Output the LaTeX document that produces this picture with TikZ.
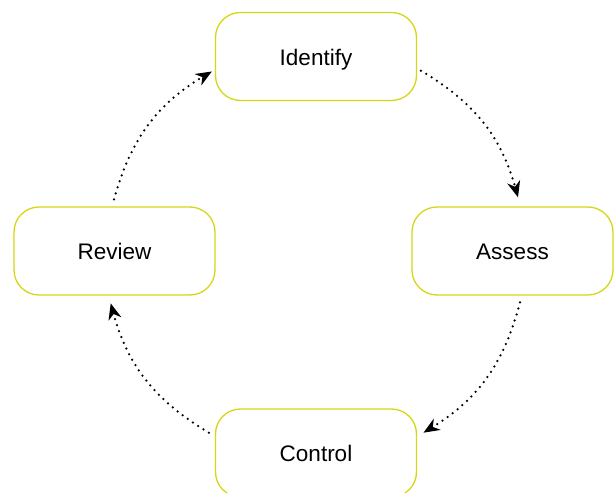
\documentclass[tikz,border=0pt]{standalone}
\usepackage{fontspec}
\setmainfont{Liberation Sans}
\usetikzlibrary{arrows.meta}
\definecolor{stepline}{RGB}{214,214,20}
\begin{document}
\begin{tikzpicture}[x=1pt,y=1pt,
		stepbox/.style={draw=stepline, line width=1.3pt, rounded corners=25pt, minimum width=201pt, minimum height=88pt, text height=18pt, text depth=0pt, font=\fontsize{22.5}{26}\selectfont},
		cyclearrow/.style={line width=2.5pt, line cap=round, dash pattern=on 0pt off 6.3pt, -{Stealth[length=16pt,width=13pt,inset=5pt]}}]
	\useasboundingbox (0,0) rectangle (614,493);
	\node[stepbox] (identify) at (316,436.5) {Identify};
	\node[stepbox] (assess) at (512.5,242) {Assess};
	\node[stepbox] (control) at (316,40) {Control};
	\node[stepbox] (review) at (114.5,242) {Review};
	
	\draw[cyclearrow] ([shift={(3.7pt,-14.2pt)}]identify.east) to[bend left=22] ([shift={(5.5pt,9pt)}]assess.north);
	\draw[cyclearrow] ([shift={(7.5pt,-6.7pt)}]assess.south) to[bend left=22] ([shift={(6.3pt,20.3pt)}]control.east);
	\draw[cyclearrow] ([shift={(-6pt,20.3pt)}]control.west) to[bend left=22] ([shift={(-3.8pt,-7.7pt)}]review.south);
	\draw[cyclearrow] ([shift={(-0.5pt,7pt)}]review.north) to[bend left=22] ([shift={(-3pt,-15pt)}]identify.west);
\end{tikzpicture}
\end{document}
